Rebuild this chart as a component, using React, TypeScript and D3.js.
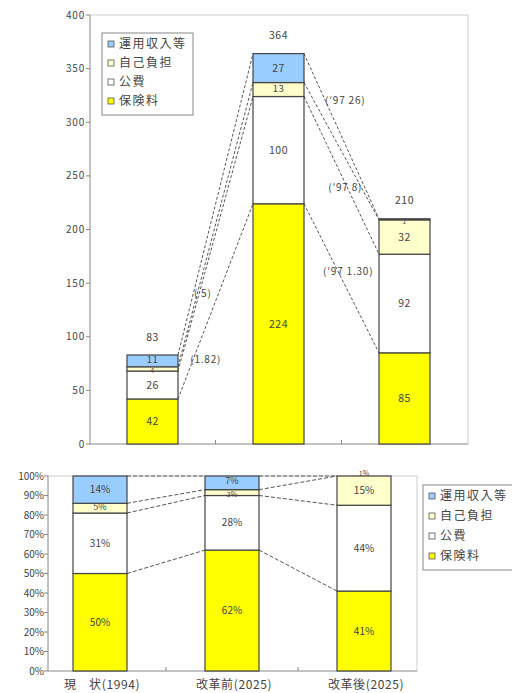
import React from "react";
import * as d3 from "d3";

const categories = ["現　状(1994)", "改革前(2025)", "改革後(2025)"];
const seriesNames = ["保険料", "公費", "自己負担", "運用収入等"];
const seriesColors = ["#FFFF00", "#FFFFFF", "#FFFFCC", "#99CCFF"];

// Top chart (amounts)
const hoken = [42, 224, 85];
const kouhi = [26, 100, 92];
const jiko = [4, 13, 32];
const unyo = [11, 27, 1];
const totals = [83, 364, 210];
const topTicks = [0, 50, 100, 150, 200, 250, 300, 350, 400];

// Bottom chart (shares, %)
const hokenP = [50, 62, 41];
const kouhiP = [31, 28, 44];
const jikoP = [5, 3, 15];
const unyoP = [14, 7, 1];
const pctTicks = [0, 10, 20, 30, 40, 50, 60, 70, 80, 90, 100];

// annotations on series lines: [text, gap index, fraction across gap, value]
const annTexts = ["( 5)", "(1.82)", "(′97 26)", "(′97 8)", "(′97 1.30)"];
const annGap = [0, 0, 1, 1, 1];
const annFrac = [0.33, 0.37, 0.55, 0.55, 0.59];
const annValue = [140, 79, 320, 239, 161];

const FONT = "'Noto Sans CJK JP', 'Noto Sans', sans-serif";
const TXT = "#444";

function buildStack(series: number[][]) {
  const rows = categories.map((c, j) => {
    const r: any = { cat: c };
    seriesNames.forEach((s, i) => (r[s] = series[i][j]));
    return r;
  });
  return d3.stack<any>().keys(seriesNames)(rows);
}

export default function App() {
  // ---------- top chart ----------
  const yT = d3.scaleLinear().domain([0, 400]).range([444, 15]);
  const xT = d3.scalePoint<string>().domain(categories).range([152.5, 404.5]);
  const bwT = 51;
  const tL = 90, tR = 468;
  const stT = buildStack([hoken, kouhi, jiko, unyo]);

  // ---------- bottom chart ----------
  const yB = d3.scaleLinear().domain([0, 100]).range([671, 476]);
  const xB = d3.scalePoint<string>().domain(categories).range([100, 364]);
  const bwB = 54;
  const bL = 48, bR = 417;
  const stB = buildStack([hokenP, kouhiP, jikoP, unyoP]);

  const topVals = [hoken, kouhi, jiko, unyo];
  const botVals = [hokenP, kouhiP, jikoP, unyoP];

  const seriesLines = (st: any[], x: any, y: any, bw: number, clampTop: number | null, dash: string, key: string) =>
    st.map((s, i) =>
      categories.slice(0, -1).map((c, j) => {
        const v1 = clampTop == null ? s[j][1] : Math.min(s[j][1], clampTop);
        const v2 = clampTop == null ? s[j + 1][1] : Math.min(s[j + 1][1], clampTop);
        return (
          <line
            key={`${key}-${i}-${j}`}
            x1={x(c) + bw / 2}
            y1={y(v1)}
            x2={x(categories[j + 1]) - bw / 2}
            y2={y(v2)}
            stroke="#555"
            strokeWidth={1}
            strokeDasharray={dash}
          />
        );
      })
    );

  const legend = (x0: number, y0: number, w: number, h: number, step: number) => (
    <g>
      <rect x={x0} y={y0} width={w} height={h} fill="#fff" stroke="#888" strokeWidth={1} />
      {[3, 2, 1, 0].map((si, k) => (
        <g key={si}>
          <rect x={x0 + 6} y={y0 + 8 + k * step} width={6} height={6} fill={seriesColors[si]} stroke="#555" strokeWidth={0.8} />
          <text x={x0 + 17} y={y0 + 11 + k * step} dy="0.35em" fontSize={12} fill={TXT} letterSpacing={1.5}>
            {seriesNames[si]}
          </text>
        </g>
      ))}
    </g>
  );

  return (
    <svg width={512} height={693} style={{ position: "absolute", left: 0, top: 0, background: "#fff" }} fontFamily={FONT}>
      <rect width={512} height={693} fill="#fff" />
      {/* ===== TOP ===== */}
      <line x1={tL} y1={yT(400)} x2={tR} y2={yT(400)} stroke="#ccc" />
      <line x1={tR} y1={yT(400)} x2={tR} y2={yT(0)} stroke="#ccc" />
      <line x1={tL} y1={yT(0)} x2={tR} y2={yT(0)} stroke="#888" />
      <line x1={tL} y1={yT(400)} x2={tL} y2={yT(0)} stroke="#888" />
      {topTicks.map((t) => (
        <g key={t}>
          <line x1={tL - 4} x2={tL} y1={yT(t)} y2={yT(t)} stroke="#888" />
          <text x={tL - 5} y={yT(t)} dy="0.35em" textAnchor="end" fontSize={10} fill={TXT} letterSpacing={0.8}>
            {t}
          </text>
        </g>
      ))}
      {categories.slice(0, -1).map((c, j) => {
        const mx = ((xT(c) as number) + (xT(categories[j + 1]) as number)) / 2;
        return <line key={c} x1={mx} x2={mx} y1={yT(0)} y2={yT(0) - 4} stroke="#888" />;
      })}
      {seriesLines(stT, xT, yT, bwT, null, "3,2", "t")}
      {stT.map((s, i) =>
        s.map((d: any, j: number) => (
          <rect
            key={`tb-${i}-${j}`}
            x={(xT(categories[j]) as number) - bwT / 2}
            y={yT(d[1])}
            width={bwT}
            height={yT(d[0]) - yT(d[1])}
            fill={seriesColors[i]}
            stroke="#444"
            strokeWidth={1.2}
          />
        ))
      )}
      {stT.map((s, i) =>
        s.map((d: any, j: number) => {
          const h = yT(d[0]) - yT(d[1]);
          const small = h < 9;
          const mid = h < 16;
          return (
            <text
              key={`tl-${i}-${j}`}
              x={xT(categories[j])}
              y={yT((d[0] + d[1]) / 2) + (small ? 2 : mid ? -1 : 0)}
              dy="0.35em"
              textAnchor="middle"
              fontSize={small ? 6.5 : mid ? 9.5 : 10.5}
              fill={TXT}
              letterSpacing={0.5}
            >
              {topVals[i][j]}
            </text>
          );
        })
      )}
      {totals.map((t, j) => (
        <text key={`tt-${j}`} x={xT(categories[j])} y={yT(t) - 18} dy="0.35em" textAnchor="middle" fontSize={10.5} fill={TXT} letterSpacing={0.5}>
          {t}
        </text>
      ))}
      {annTexts.map((t, k) => {
        const g = annGap[k];
        const xa = (xT(categories[g]) as number) + bwT / 2;
        const xb = (xT(categories[g + 1]) as number) - bwT / 2;
        return (
          <text key={`an-${k}`} x={xa + (xb - xa) * annFrac[k]} y={yT(annValue[k])} dy="0.35em" textAnchor="middle" fontSize={10} fill={TXT} letterSpacing={0.8}>
            {t}
          </text>
        );
      })}
      {legend(102, 33, 91, 82, 19)}

      {/* ===== BOTTOM ===== */}
      <line x1={bL} y1={yB(100)} x2={bR} y2={yB(100)} stroke="#ccc" />
      <line x1={bR} y1={yB(100)} x2={bR} y2={yB(0)} stroke="#ccc" />
      <line x1={bL} y1={yB(0)} x2={bR} y2={yB(0)} stroke="#888" />
      <line x1={bL} y1={yB(100)} x2={bL} y2={yB(0)} stroke="#888" />
      {pctTicks.map((t) => (
        <g key={t}>
          <line x1={bL - 4} x2={bL} y1={yB(t)} y2={yB(t)} stroke="#888" />
          <text x={bL - 4} y={yB(t)} dy="0.35em" textAnchor="end" fontSize={10} fill={TXT}>
            {t}%
          </text>
        </g>
      ))}
      {categories.slice(0, -1).map((c, j) => {
        const mx = ((xB(c) as number) + (xB(categories[j + 1]) as number)) / 2;
        return <line key={c} x1={mx} x2={mx} y1={yB(0)} y2={yB(0) - 4} stroke="#888" />;
      })}
      {seriesLines(stB, xB, yB, bwB, 100, "4,2", "b")}
      {stB.map((s, i) =>
        s.map((d: any, j: number) => {
          const top = Math.min(d[1], 100);
          const bot = Math.min(d[0], 100);
          return (
            <rect
              key={`bb-${i}-${j}`}
              x={(xB(categories[j]) as number) - bwB / 2}
              y={yB(top)}
              width={bwB}
              height={Math.max(0, yB(bot) - yB(top))}
              fill={seriesColors[i]}
              stroke="#444"
              strokeWidth={1.2}
            />
          );
        })
      )}
      {stB.map((s, i) =>
        s.map((d: any, j: number) => {
          const h = yB(Math.min(d[0], 100)) - yB(Math.min(d[1], 100));
          const small = h < 9;
          const mid = h < 16;
          return (
            <text
              key={`bl-${i}-${j}`}
              x={xB(categories[j])}
              y={yB(Math.min((d[0] + d[1]) / 2, 100.8)) + (small && h > 1 ? 2 : mid ? -1.5 : 0)}
              dy="0.35em"
              textAnchor="middle"
              fontSize={small ? 7 : mid ? 9 : 10}
              fill={TXT}
            >
              {botVals[i][j]}%
            </text>
          );
        })
      )}
      {categories.map((c) => (
        <text key={c} x={(xB(c) as number) + 2} y={685} dy="0.35em" textAnchor="middle" fontSize={12} fill={TXT} letterSpacing={0.6}>
          {c}
        </text>
      ))}
      {legend(423, 485, 100, 85, 20)}
    </svg>
  );
}
